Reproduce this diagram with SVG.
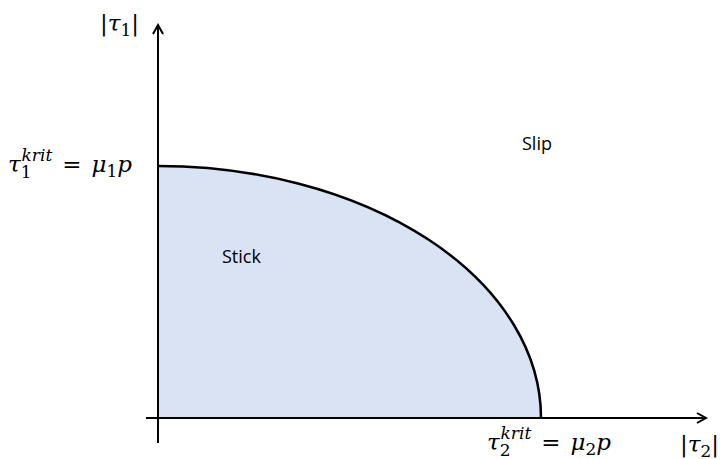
<svg xmlns="http://www.w3.org/2000/svg" width="720" height="459" viewBox="0 0 720 459">
<style>
.ax{stroke:#000;stroke-width:2;fill:none}
.m{font-family:"DejaVu Serif","Liberation Serif",serif;font-style:italic;font-size:23px;fill:#000}
.n{font-style:normal}
.t{font-family:"Open Sans","Noto Sans","Liberation Sans",sans-serif;font-size:18px;fill:#000}
</style>
<defs>
<marker id="ah" viewBox="0 0 12 12" refX="10" refY="6" markerWidth="12" markerHeight="12" markerUnits="userSpaceOnUse" orient="auto">
<polyline points="1,1 10,6 1,11" fill="none" stroke="#000" stroke-width="2"/>
</marker>
</defs>
<g id="region">
<path d="M158,418 L158,166 A383,252 0 0 1 541,418 Z" fill="#dae3f3"/>
<path d="M158,166 A383,252 0 0 1 541,418" fill="none" stroke="#000" stroke-width="2.5"/>
</g>
<g id="connectors">
<line class="ax" x1="158" y1="443" x2="158" y2="25" marker-end="url(#ah)"/>
<line class="ax" x1="146" y1="418" x2="706" y2="418" marker-end="url(#ah)"/>
</g>
<g id="labels">
<text class="m" x="100" y="31"><tspan class="n">|</tspan>τ<tspan class="n" font-size="17" dy="5">1</tspan><tspan class="n" dy="-5">|</tspan></text>
<text class="m" x="8" y="172">τ<tspan class="n" font-size="17" dy="6">1</tspan><tspan font-size="17" dx="-10" dy="-17">krit</tspan><tspan class="n" dx="10" dy="11">=</tspan><tspan dx="10">μ</tspan><tspan class="n" font-size="17" dy="5">1</tspan><tspan dy="-5">p</tspan></text>
<text class="m" x="487" y="450">τ<tspan class="n" font-size="17" dy="6">2</tspan><tspan font-size="17" dx="-10" dy="-17">krit</tspan><tspan class="n" dx="10" dy="11">=</tspan><tspan dx="10">μ</tspan><tspan class="n" font-size="17" dy="5">2</tspan><tspan dy="-5">p</tspan></text>
<text class="m" x="680" y="452"><tspan class="n">|</tspan>τ<tspan class="n" font-size="17" dy="5">2</tspan><tspan class="n" dy="-5">|</tspan></text>
<text class="t" x="222" y="263">Stick</text>
<text class="t" x="522" y="150">Slip</text>
</g>
</svg>
